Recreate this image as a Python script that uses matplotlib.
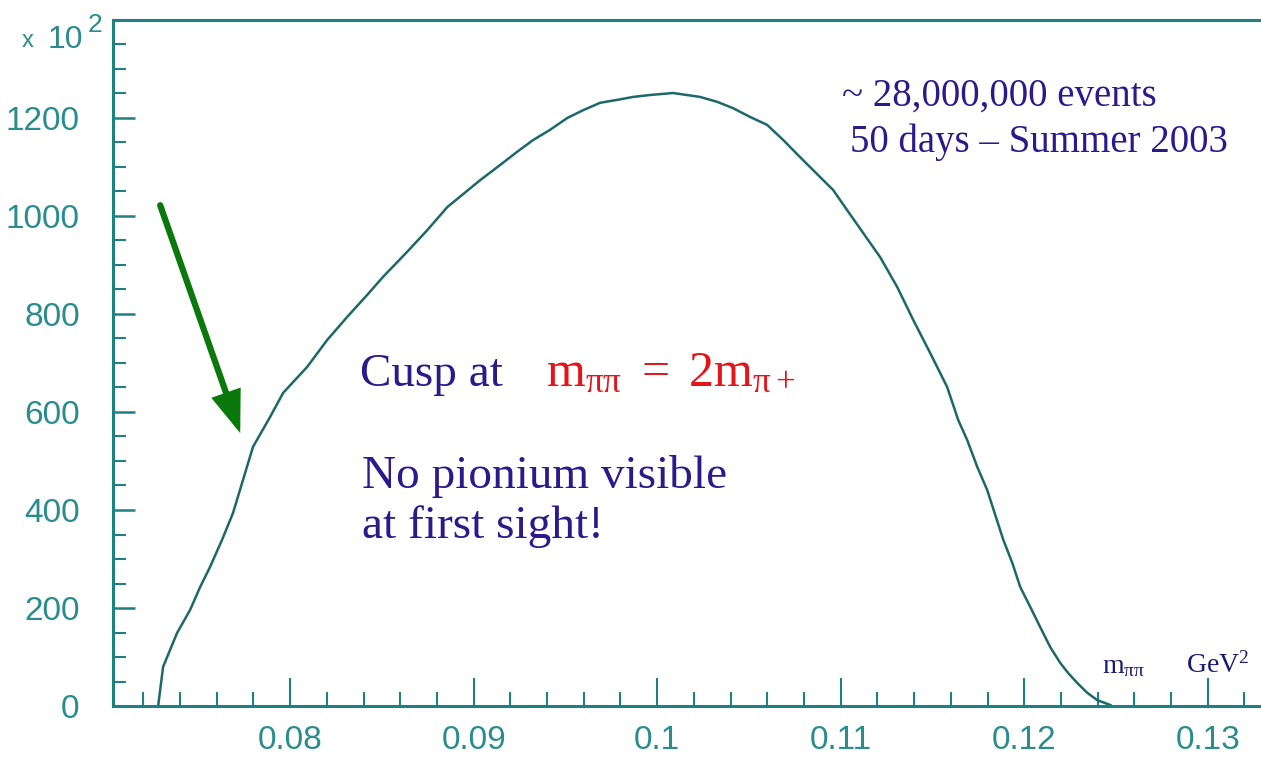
import matplotlib
matplotlib.use("Agg")
import matplotlib.pyplot as plt
from matplotlib.ticker import MultipleLocator

# m_pipi^2 spectrum (GeV^2), counts in units of 10^2
mass2 = [0.07281, 0.07308, 0.07384, 0.07455, 0.07510, 0.07564, 0.07629, 0.07689,
         0.07798, 0.07891, 0.07962, 0.08093, 0.08202, 0.08311, 0.08420, 0.08507,
         0.08638, 0.08747, 0.08856, 0.09035, 0.09144, 0.09237, 0.09324, 0.09417,
         0.09510, 0.09597, 0.09689, 0.09782, 0.09869, 0.09962, 0.10087, 0.10234,
         0.10327, 0.10414, 0.10507, 0.10599, 0.10687, 0.10779, 0.10959, 0.11035,
         0.11123, 0.11215, 0.11308, 0.11395, 0.11488, 0.11580, 0.11640, 0.11689,
         0.11744, 0.11798, 0.11842, 0.11886, 0.11935, 0.11978, 0.12033, 0.12087,
         0.12142, 0.12196, 0.12240, 0.12289, 0.12343, 0.12398, 0.12469]
counts = [0, 80, 149, 196, 243, 284, 339, 394,
          529, 590, 639, 692, 747, 794, 839, 876,
          927, 971, 1018, 1073, 1104, 1131, 1155, 1176,
          1200, 1216, 1231, 1237, 1243, 1247, 1251, 1243,
          1233, 1220, 1202, 1186, 1155, 1120, 1053, 1012,
          965, 916, 855, 788, 720, 651, 584, 543,
          488, 441, 390, 339, 292, 243, 202, 161,
          120, 88, 67, 47, 27, 12, 2]

xticks = [0.08, 0.09, 0.10, 0.11, 0.12, 0.13]
xticklabels = ["0.08", "0.09", "0.1", "0.11", "0.12", "0.13"]
yticks = [0, 200, 400, 600, 800, 1000, 1200]

W, H = 1261, 762
axis_col = "#1f8080"
label_col = "#2a8c8c"
text_col = "#2a1a8c"
red = "#e4141a"

plt.rcParams["mathtext.fontset"] = "custom"
plt.rcParams["mathtext.rm"] = "Liberation Serif"
plt.rcParams["mathtext.it"] = "Liberation Serif:italic"

fig = plt.figure(figsize=(W / 100, H / 100), dpi=100)
# axes runs past the right edge of the picture, like the original
ax = fig.add_axes([113 / W, 1 - 706 / H, (1272 - 113) / W, (706 - 20) / H])

ax.plot(mass2, counts, color="#1d6868", lw=1.8)

ax.set_xlim(0.07035, 0.1335)
ax.set_ylim(0, 1400)

ax.set_xticks(xticks)
ax.set_xticklabels(xticklabels)
ax.set_yticks(yticks)
ax.xaxis.set_minor_locator(MultipleLocator(0.002))
ax.yaxis.set_minor_locator(MultipleLocator(50))

ax.tick_params(axis="x", which="major", direction="in", length=20, width=1.5,
               color=axis_col, labelcolor=label_col, labelsize=24, pad=14)
ax.tick_params(axis="x", which="minor", direction="in", length=10, width=1.5, color=axis_col)
ax.tick_params(axis="y", which="major", direction="in", length=16, width=1.8,
               color=axis_col, labelcolor=label_col, labelsize=24, pad=24)
ax.tick_params(axis="y", which="minor", direction="in", length=9, width=1.5, color=axis_col)
for lab in ax.get_xticklabels() + ax.get_yticklabels():
    lab.set_family("Liberation Sans")

ax.spines["right"].set_visible(False)
for s in ["left", "bottom", "top"]:
    ax.spines[s].set_color(axis_col)
    ax.spines[s].set_linewidth(2.2)

# "x 10^2" scale marker
fig.text(22 / W, 1 - 47 / H, "x", color=label_col, fontsize=17, family="Liberation Sans")
fig.text(48 / W, 1 - 48 / H, "10", color=label_col, fontsize=23, family="Liberation Sans")
fig.text(88 / W, 1 - 32 / H, "2", color=label_col, fontsize=19, family="Liberation Sans")

serif = "Liberation Serif"
fig.text(842 / W, 1 - 106 / H, "~ 28,000,000 events", color=text_col, fontsize=28, family=serif)
fig.text(850 / W, 1 - 152 / H, "50 days \u2013 Summer 2003", color=text_col, fontsize=28, family=serif)

fig.text(360 / W, 1 - 386 / H, "Cusp at", color=text_col, fontsize=34, family=serif)
fig.text(546 / W, 1 - 386 / H, r"$\mathrm{m}_{\mathrm{\pi\pi}}\ =\ \mathrm{2m}_{\mathrm{\pi+}}$",
         color=red, fontsize=36)
fig.text(362 / W, 1 - 488 / H, "No pionium visible", color=text_col, fontsize=34, family=serif)
fig.text(362 / W, 1 - 538 / H, "at first sight!", color=text_col, fontsize=34, family=serif)

fig.text(1102 / W, 1 - 673 / H, r"$\mathrm{m}_{\mathrm{\pi\pi}}$", color="#1a1a70", fontsize=20)
fig.text(1186 / W, 1 - 673 / H, r"$\mathrm{GeV}^{2}$", color="#1a1a70", fontsize=20)

# green arrow pointing at the cusp
ax.annotate("", xy=(0.07728, 557), xytext=(0.07292, 1022),
            arrowprops=dict(arrowstyle="-|>,head_length=2.2,head_width=0.8",
                            color="#0a780a", lw=4.5, shrinkA=0, shrinkB=0,
                            joinstyle="miter"))

fig.savefig("out.png", dpi=100)
